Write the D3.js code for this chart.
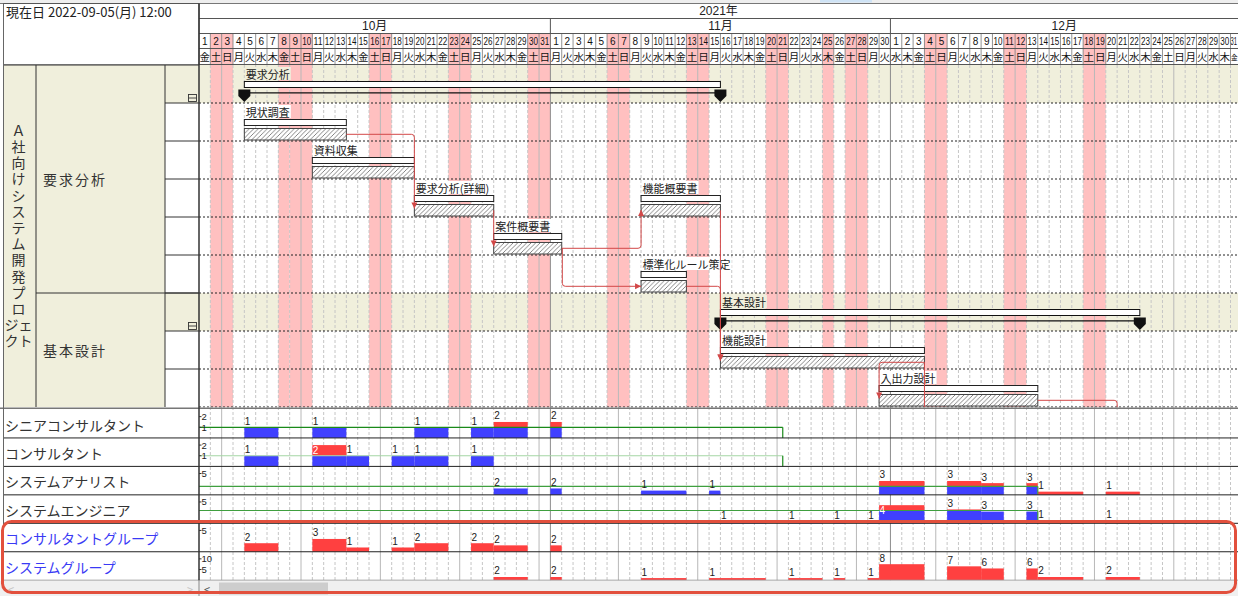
<!DOCTYPE html>
<html><head><meta charset="utf-8">
<script src="https://cdn.jsdelivr.net/npm/d3@7"></script>
<style>
html,body{margin:0;padding:0;background:#fff;overflow:hidden}
svg{display:block}
text{font-family:"Noto Sans CJK JP","Noto Sans",sans-serif}
.num{font-family:"Liberation Sans Narrow","Liberation Sans",Arial,sans-serif}
.dig{font-family:"Liberation Sans",Arial,sans-serif}
.stack{font-family:"Liberation Sans","Noto Sans CJK JP",sans-serif}
</style></head><body>
<svg id="c" width="1238" height="596"></svg>
<script>
// ================= DATA =================
const currentDateLabel = "現在日 2022-09-05(月) 12:00";
const yearLabel = "2021年";
const monthLabels = ["10月","11月","12月"];
const monthStarts = ["2021-10-01","2021-11-01","2021-12-01"];
const calendarStart = "2021-10-01";
const calendarEnd = "2022-01-01";
const weekdayNames = ["日","月","火","水","木","金","土"];
const holidays = ["2021-10-02","2021-10-03","2021-10-08","2021-10-09","2021-10-10","2021-10-16","2021-10-17",
  "2021-10-23","2021-10-24","2021-10-30","2021-10-31","2021-11-06","2021-11-07","2021-11-13","2021-11-14",
  "2021-11-20","2021-11-21","2021-11-25","2021-11-27","2021-11-28","2021-12-04","2021-12-05","2021-12-11",
  "2021-12-12","2021-12-18","2021-12-19"];

const projectNameLines = ["Ａ","社","向","け","シ","ス","テ","ム","開","発","プ","ロ","ジェ","クト"];
const phaseNames = ["要求分析","基本設計"];
const phaseFirstRow = [0,6];
const phaseLastRow = [5,8];

const taskNames    = ["要求分析","現状調査","資料収集","要求分析(詳細)","案件概要書","機能概要書","標準化ルール策定","基本設計","機能設計","入出力設計"];
const taskRows     = [0,1,2,3,4,3,5,6,7,8];
const taskStarts   = ["2021-10-05","2021-10-05","2021-10-11","2021-10-20","2021-10-27","2021-11-09","2021-11-09","2021-11-16","2021-11-16","2021-11-30"];
const taskFinishes = ["2021-11-15","2021-10-13","2021-10-19","2021-10-26","2021-11-01","2021-11-15","2021-11-12","2021-12-22","2021-12-03","2021-12-13"];
const taskIsSummary = [true,false,false,false,false,false,false,true,false,false];

const linkFrom  = ["現状調査","要求分析(詳細)","案件概要書","案件概要書","標準化ルール策定","機能概要書","機能設計"];
const linkTo    = ["要求分析(詳細)","案件概要書","機能概要書","標準化ルール策定","機能設計","機能設計","入出力設計"];
const linkRoute = ["hv","hv","hv","vh","hv","hv","hv"];
// successors outside the visible rows
const hiddenLinkFrom = ["機能設計","入出力設計"];
const hiddenLinkToStart = ["2021-12-04","2021-12-21"];
const hiddenLinkToRow = [9,9];

const resourceNames = ["シニアコンサルタント","コンサルタント","システムアナリスト","システムエンジニア","コンサルタントグループ","システムグループ"];
const resourceIsGroup = [false,false,false,false,true,true];
const resourceAxisMax = [2.67,2.67,6.67,6.67,6.67,13.33];
const resourceTicks = [[1,2],[1,2],[5],[5],[5],[5,10]];
const capacityValue = [1,1,2,3,null,null];
const capacityEnd = ["2021-11-21T12:00","2021-11-21T12:00","2021-12-14T00:00","2021-12-14T00:00",null,null];

const seniorLoad = [["2021-10-05","2021-10-07",1],["2021-10-11","2021-10-13",1],["2021-10-20","2021-10-22",1],
  ["2021-10-25","2021-10-26",1],["2021-10-27","2021-10-29",1.5],["2021-11-01","2021-11-01",1.5]];
const consultantLoad = [["2021-10-05","2021-10-07",1],["2021-10-11","2021-10-13",2],["2021-10-14","2021-10-15",1],
  ["2021-10-18","2021-10-19",1],["2021-10-20","2021-10-22",1],["2021-10-25","2021-10-26",1]];
const analystLoad = [["2021-10-27","2021-10-29",1.5],["2021-11-01","2021-11-01",1.5],["2021-11-09","2021-11-12",1],
  ["2021-11-15","2021-11-15",1],["2021-11-30","2021-12-03",3.25],["2021-12-06","2021-12-08",3.25],
  ["2021-12-09","2021-12-10",2.75],["2021-12-13","2021-12-13",2.75],["2021-12-14","2021-12-17",0.75],["2021-12-20","2021-12-22",0.75]];
const engineerLoad = [["2021-11-16","2021-11-19",0.5],["2021-11-22","2021-11-24",0.5],["2021-11-26","2021-11-26",0.5],
  ["2021-11-29","2021-11-29",0.5],["2021-11-30","2021-12-03",4.25],["2021-12-06","2021-12-08",3.25],
  ["2021-12-09","2021-12-10",2.75],["2021-12-13","2021-12-13",2.75],["2021-12-14","2021-12-17",0.75],["2021-12-20","2021-12-22",0.75]];
const consultantGroupLoad = [["2021-10-05","2021-10-07",2],["2021-10-11","2021-10-13",3],["2021-10-14","2021-10-15",1],
  ["2021-10-18","2021-10-19",1],["2021-10-20","2021-10-22",2],["2021-10-25","2021-10-26",2],
  ["2021-10-27","2021-10-29",1.5],["2021-11-01","2021-11-01",1.5]];
const systemGroupLoad = [["2021-10-27","2021-10-29",1.5],["2021-11-01","2021-11-01",1.5],["2021-11-09","2021-11-12",1],
  ["2021-11-15","2021-11-19",1],["2021-11-22","2021-11-24",1],["2021-11-26","2021-11-26",1],["2021-11-29","2021-11-29",1],
  ["2021-11-30","2021-12-03",7.5],["2021-12-06","2021-12-08",6.5],["2021-12-09","2021-12-10",5.5],
  ["2021-12-13","2021-12-13",5.5],["2021-12-14","2021-12-17",1.5],["2021-12-20","2021-12-22",1.5]];
const resourceLoads = [seniorLoad, consultantLoad, analystLoad, engineerLoad, consultantGroupLoad, systemGroupLoad];

// ================= LAYOUT =================
const W = 1238, H = 596;
const LEFT = 199, DAYW = 11.335;
const CH_TOP = 65, ROW_H = 38, N_ROWS = 9, CH_BOT = CH_TOP + ROW_H * N_ROWS;
const RES_TOP = 409.5, RES_H = 28.45;
const BEIGE = "#f0efdc", PINK = "#ffc0c0", BLUE = "#4040ff", RED = "#ff4040", LINK = "#d24848";

const D = s => new Date(s.length === 10 ? s + "T00:00:00Z" : s + ":00Z");
const nextDay = s => d3.utcDay.offset(D(s), 1);
const days = d3.utcDays(D(calendarStart), D(calendarEnd));
const x = d3.scaleUtc().domain([D(calendarStart), D(calendarEnd)]).range([LEFT, LEFT + days.length * DAYW]);
const holidaySet = new Set(holidays);
const key = d => d3.utcFormat("%Y-%m-%d")(d);

const svg = d3.select("#c");
svg.append("rect").attr("width", W).attr("height", H).attr("fill", "#fff");
const defs = svg.append("defs");
const pat = defs.append("pattern").attr("id", "hatch").attr("patternUnits", "userSpaceOnUse").attr("width", 4.5).attr("height", 4.5);
pat.append("rect").attr("width", 4.5).attr("height", 4.5).attr("fill", "#fff");
pat.append("path").attr("d", "M0,4.5 L4.5,0 M-1,1 L1,-1 M3.5,5.5 L5.5,3.5").attr("stroke", "#666").attr("stroke-width", 0.8);
defs.append("clipPath").attr("id", "clipTask").append("rect").attr("x", LEFT).attr("y", CH_TOP).attr("width", W - LEFT).attr("height", CH_BOT - CH_TOP + 0.5);
defs.append("clipPath").attr("id", "clipRes").append("rect").attr("x", LEFT).attr("y", CH_BOT).attr("width", W - LEFT).attr("height", 580.5 - CH_BOT);
defs.append("clipPath").attr("id", "clipHdr").append("rect").attr("x", LEFT).attr("y", 0).attr("width", W - LEFT).attr("height", CH_TOP);

// top strip
svg.append("rect").attr("x", 0).attr("y", 0).attr("width", W).attr("height", 3).attr("fill", "#eeeeee");
svg.append("rect").attr("x", 820).attr("y", 0).attr("width", 52).attr("height", 2.5).attr("fill", "#cfe3f5");
svg.append("line").attr("x1", 0).attr("x2", W).attr("y1", 3.5).attr("y2", 3.5).attr("stroke", "#777");

// ================= HEADER =================
const hdr = svg.append("g").attr("clip-path", "url(#clipHdr)");
hdr.append("text").attr("class", "stack").attr("x", (LEFT + W) / 2).attr("y", 11).attr("text-anchor", "middle").attr("dominant-baseline", "central")
  .attr("font-size", 12).attr("fill", "#222").text(yearLabel);
monthStarts.forEach((m, i) => {
  const s = D(m), e = i < monthStarts.length - 1 ? D(monthStarts[i + 1]) : D(calendarEnd);
  const a = Math.max(x(s), LEFT), b = Math.min(x(e), W);
  hdr.append("text").attr("class", "stack").attr("x", (a + b) / 2).attr("y", 25.5).attr("text-anchor", "middle").attr("dominant-baseline", "central")
    .attr("font-size", 12).attr("fill", "#222").text(monthLabels[i]);
  if (i > 0) hdr.append("line").attr("x1", x(s)).attr("x2", x(s)).attr("y1", 18.5).attr("y2", 64.5).attr("stroke", "#555");
});
days.forEach(d => {
  const x0 = x(d), x1 = x(d3.utcDay.offset(d, 1));
  const partial = x1 > W;
  const cx = (x0 + Math.min(x1, W)) / 2;
  if (holidaySet.has(key(d))) hdr.append("rect").attr("x", x0).attr("y", 33.5).attr("width", x1 - x0).attr("height", 31).attr("fill", PINK);
  const n = String(d.getUTCDate());
  const t = hdr.append("text").attr("class", "num").attr("y", 41.2).attr("dominant-baseline", "central")
    .attr("font-size", 10).attr("fill", "#111").text(n);
  if (partial) t.attr("x", W - 1).attr("text-anchor", "end").attr("textLength", 6.5).attr("lengthAdjust", "spacingAndGlyphs");
  else {
    t.attr("x", cx).attr("text-anchor", "middle");
    if (n.length > 1) t.attr("textLength", 9).attr("lengthAdjust", "spacingAndGlyphs");
  }
  hdr.append("text").attr("x", cx).attr("y", 56.5).attr("text-anchor", "middle").attr("dominant-baseline", "central")
    .attr("font-size", partial ? 7 : 10.5).attr("fill", "#111").text(weekdayNames[d.getUTCDay()]);
  if (x0 > LEFT + 1) hdr.append("line").attr("x1", x0).attr("x2", x0).attr("y1", 33.5).attr("y2", 64.5).attr("stroke", "#777").attr("stroke-width", 0.8);
});
[18.5, 33.5, 48.5, 64.5].forEach(yy => hdr.append("line").attr("x1", LEFT).attr("x2", W).attr("y1", yy).attr("y2", yy).attr("stroke", "#555"));

// left header
svg.append("rect").attr("x", 3.5).attr("y", 3.5).attr("width", LEFT - 3.5).attr("height", CH_TOP - 3.5).attr("fill", "#fff").attr("stroke", "#555");
svg.append("text").attr("x", 6).attr("y", 11.5).attr("dominant-baseline", "central").attr("font-size", 13).attr("fill", "#222").text(currentDateLabel);

// ================= TASK AREA =================
const ta = svg.append("g").attr("clip-path", "url(#clipTask)");
const summaryRows = taskRows.filter((r, i) => taskIsSummary[i]);
summaryRows.forEach(r => ta.append("rect").attr("x", LEFT).attr("y", CH_TOP + r * ROW_H).attr("width", W - LEFT).attr("height", ROW_H).attr("fill", BEIGE));
holidays.forEach(h => ta.append("rect").attr("x", x(D(h))).attr("y", CH_TOP).attr("width", x(nextDay(h)) - x(D(h))).attr("height", CH_BOT - CH_TOP).attr("fill", PINK));

function vgrid(g, y0, y1) {
  days.forEach(d => {
    const xx = x(d);
    if (xx <= LEFT + 1) return;
    const monthStart = d.getUTCDate() === 1, sunday = d.getUTCDay() === 0;
    const l = g.append("line").attr("x1", xx).attr("x2", xx).attr("y1", y0).attr("y2", y1);
    if (monthStart) l.attr("stroke", "#8c8c8c");
    else if (sunday) l.attr("stroke", "#b8b8b8");
    else l.attr("stroke", "#c6c6c6").attr("stroke-dasharray", "3,2");
  });
}
vgrid(ta, CH_TOP, CH_BOT);
for (let r = 1; r <= N_ROWS; r++) {
  const yy = CH_TOP + r * ROW_H;
  ta.append("line").attr("x1", LEFT).attr("x2", W).attr("y1", yy).attr("y2", yy).attr("stroke", "#222").attr("stroke-dasharray", "2,2");
}

const geom = name => {
  const i = taskNames.indexOf(name);
  const top = CH_TOP + taskRows[i] * ROW_H;
  return { x0: x(D(taskStarts[i])), x1: x(nextDay(taskFinishes[i])), top, mid: top + 31.3, hTop: top + 25.5, hBot: top + 37 };
};

const marker = (cx, top) => `M${cx - 6},${top} H${cx + 6} V${top + 6.5} L${cx},${top + 12.5} L${cx - 6},${top + 6.5} Z`;

taskNames.forEach((name, i) => {
  const g = geom(name);
  if (taskIsSummary[i]) {
    ta.append("rect").attr("x", g.x0).attr("y", g.top + 16.5).attr("width", g.x1 - g.x0).attr("height", 6).attr("fill", "#fff").attr("stroke", "#111");
    ta.append("line").attr("x1", g.x0).attr("x2", g.x1).attr("y1", g.top + 27.8).attr("y2", g.top + 27.8).attr("stroke", "#111").attr("stroke-width", 1.2);
    ta.append("path").attr("d", marker(g.x0, g.top + 24.5)).attr("fill", "#111");
    ta.append("path").attr("d", marker(g.x1, g.top + 24.5)).attr("fill", "#111");
  } else {
    ta.append("rect").attr("x", g.x0).attr("y", g.top + 16.5).attr("width", g.x1 - g.x0).attr("height", 6).attr("fill", "#fff").attr("stroke", "#222");
    ta.append("rect").attr("x", g.x0).attr("y", g.hTop).attr("width", g.x1 - g.x0).attr("height", g.hBot - g.hTop).attr("fill", "url(#hatch)").attr("stroke", "#444");
  }
  const bg = ta.append("rect").attr("fill", taskIsSummary[i] ? BEIGE : "#fff");
  const t = ta.append("text").attr("x", g.x0 + 1.5).attr("y", g.top + 8.5).attr("dominant-baseline", "central").attr("font-size", 11).attr("fill", "#222").text(name);
  const w = t.node().getComputedTextLength();
  bg.attr("x", g.x0 + 0.5).attr("y", g.top + 2).attr("width", w + 2).attr("height", 13);
});

// links
function arrowHead(ex, ey, dir) {
  const L = 6, hw = 3;
  let p;
  if (dir === "down") p = `M${ex},${ey} L${ex - hw},${ey - L} L${ex + hw},${ey - L} Z`;
  else if (dir === "up") p = `M${ex},${ey} L${ex - hw},${ey + L} L${ex + hw},${ey + L} Z`;
  else p = `M${ex},${ey} L${ex - L},${ey - hw} L${ex - L},${ey + hw} Z`;
  ta.append("path").attr("d", p).attr("fill", LINK);
}
function hvPath(sx, sy, tx, ty) {
  const r = 3;
  if (Math.abs(tx - sx) < 2) return `M${tx},${sy} V${ty}`;
  const sh = Math.sign(tx - sx), sv = Math.sign(ty - sy);
  return `M${sx},${sy} H${tx - r * sh} Q${tx},${sy} ${tx},${sy + r * sv} V${ty}`;
}
linkFrom.forEach((f, i) => {
  const s = geom(f), t = geom(linkTo[i]);
  if (linkRoute[i] === "hv") {
    const down = t.top > s.top;
    const ty = down ? t.hTop + 4 : t.hBot - 6;
    ta.append("path").attr("d", hvPath(s.x1, s.mid, t.x0, ty)).attr("fill", "none").attr("stroke", LINK);
    arrowHead(t.x0, ty, down ? "down" : "up");
  } else {
    const vx = s.x1 + 0.6, r = 3;
    ta.append("path").attr("d", `M${vx},${s.mid} V${t.mid - r} Q${vx},${t.mid} ${vx + r},${t.mid} H${t.x0}`).attr("fill", "none").attr("stroke", LINK);
    arrowHead(t.x0, t.mid, "right");
  }
});
hiddenLinkFrom.forEach((f, i) => {
  const s = geom(f);
  const tx = x(D(hiddenLinkToStart[i])), ty = CH_TOP + hiddenLinkToRow[i] * ROW_H + 29.5;
  ta.append("path").attr("d", hvPath(s.x1, s.mid, tx, ty)).attr("fill", "none").attr("stroke", LINK);
});

// ================= LEFT PANEL (tasks) =================
const lp = svg.append("g");
lp.append("rect").attr("x", 3.5).attr("y", CH_TOP).attr("width", 162 - 0.5).attr("height", CH_BOT - CH_TOP).attr("fill", BEIGE);
for (let r = 0; r < N_ROWS; r++) {
  const isSum = summaryRows.includes(r);
  const yy = CH_TOP + r * ROW_H;
  lp.append("rect").attr("x", 165).attr("y", yy).attr("width", LEFT - 165).attr("height", ROW_H).attr("fill", isSum ? BEIGE : "#fff");
  if (isSum) {
    lp.append("rect").attr("x", 188.5).attr("y", yy + 29.5).attr("width", 8).attr("height", 7).attr("fill", "none").attr("stroke", "#333").attr("stroke-width", 0.9);
    lp.append("line").attr("x1", 188.5).attr("x2", 196.5).attr("y1", yy + 33).attr("y2", yy + 33).attr("stroke", "#333").attr("stroke-width", 0.9);
  }
  if (r > 0) lp.append("line").attr("x1", 165).attr("x2", LEFT).attr("y1", yy).attr("y2", yy).attr("stroke", "#333");
}
phaseNames.forEach((p, i) => {
  const y0 = CH_TOP + phaseFirstRow[i] * ROW_H, y1 = CH_TOP + (phaseLastRow[i] + 1) * ROW_H;
  lp.append("text").attr("x", 43).attr("y", (y0 + y1) / 2).attr("dominant-baseline", "central").attr("font-size", 14)
    .attr("letter-spacing", 2).attr("fill", "#333").text(p);
  if (i > 0) lp.append("line").attr("x1", 36).attr("x2", LEFT).attr("y1", y0).attr("y2", y0).attr("stroke", "#333");
});
// project name wrapped in the narrow first column (one text, one line per tspan)
const pnStep = 16.2, pnMid = (CH_TOP + CH_BOT) / 2;
const pn = lp.append("text").attr("class", "stack").attr("text-anchor", "middle").attr("font-size", 14).attr("fill", "#333");
projectNameLines.forEach((s, i) => {
  pn.append("tspan").attr("x", 18.5).attr("y", pnMid + (i - (projectNameLines.length - 1) / 2) * pnStep + 5).text(s);
});
[36, 165].forEach(xx => lp.append("line").attr("x1", xx).attr("x2", xx).attr("y1", CH_TOP).attr("y2", CH_BOT).attr("stroke", "#333"));
lp.append("line").attr("x1", 3.5).attr("x2", LEFT).attr("y1", CH_TOP).attr("y2", CH_TOP).attr("stroke", "#333");

// ================= RESOURCE AREA =================
const ra = svg.append("g").attr("clip-path", "url(#clipRes)");
vgrid(ra, CH_BOT, 580.5);
resourceNames.forEach((name, i) => {
  const top = RES_TOP + i * RES_H, bot = top + RES_H;
  const y = d3.scaleLinear().domain([0, resourceAxisMax[i]]).range([bot, top]);
  const cap = capacityValue[i], capEnd = capacityEnd[i] ? D(capacityEnd[i]) : null;
  const labels = [];
  resourceLoads[i].forEach(([s, e, v]) => {
    const x0 = x(D(s)), x1 = x(nextDay(e));
    const c = (cap !== null && D(s) < capEnd) ? cap : 0;
    const bv = Math.min(v, c);
    if (bv > 0) ra.append("rect").attr("x", x0).attr("y", y(bv)).attr("width", x1 - x0).attr("height", y(0) - y(bv)).attr("fill", BLUE);
    if (v > bv) ra.append("rect").attr("x", x0).attr("y", y(v)).attr("width", x1 - x0).attr("height", y(bv) - y(v)).attr("fill", RED);
    const bt = y(v);
    const above = bt - top >= 11;
    labels.push({ x: x0 + 0.5, y: above ? bt - 6 : bt + 5, c: above ? "#222" : "#fff", t: String(Math.round(v)) });
  });
  if (cap !== null) {
    const xe = x(capEnd);
    const lineCol = i === 1 ? "#a4d6a4" : (i === 0 ? "#1a8a1a" : "#3f9f3f");
    ra.append("line").attr("x1", LEFT).attr("x2", xe).attr("y1", y(cap)).attr("y2", y(cap)).attr("stroke", lineCol).attr("stroke-width", 1.2);
    ra.append("line").attr("x1", xe).attr("x2", xe).attr("y1", y(cap)).attr("y2", bot).attr("stroke", i <= 1 ? "#1a8a1a" : lineCol).attr("stroke-width", 1.2);
  }
  labels.forEach(l => ra.append("text").attr("class", "dig").attr("x", l.x).attr("y", l.y).attr("dominant-baseline", "central")
    .attr("font-size", 10).attr("fill", l.c).text(l.t));
  resourceTicks[i].forEach(t => {
    ra.append("line").attr("x1", LEFT).attr("x2", LEFT + 2.5).attr("y1", y(t)).attr("y2", y(t)).attr("stroke", "#333");
    ra.append("text").attr("class", "dig").attr("x", LEFT + 2.5).attr("y", y(t)).attr("dominant-baseline", "central")
      .attr("font-size", 9.5).attr("fill", "#222").text(t);
  });
  svg.append("text").attr("x", 5).attr("y", top + 15).attr("dominant-baseline", "central").attr("font-size", 14)
    .attr("fill", resourceIsGroup[i] ? "#3a3af5" : "#333").text(name);
  svg.append("line").attr("x1", 3.5).attr("x2", W).attr("y1", bot).attr("y2", bot).attr("stroke", i === 5 ? "#999" : "#222");
});

// separators
svg.append("line").attr("x1", 0).attr("x2", W).attr("y1", CH_BOT + 1.2).attr("y2", CH_BOT + 1.2).attr("stroke", "#777").attr("stroke-width", 1.6);
svg.append("line").attr("x1", LEFT).attr("x2", LEFT).attr("y1", 3.5).attr("y2", 580.5).attr("stroke", "#333").attr("stroke-width", 1.5);
svg.append("line").attr("x1", 3.5).attr("x2", 3.5).attr("y1", 3.5).attr("y2", 580.5).attr("stroke", "#666");

// scrollbar
svg.append("rect").attr("x", 0).attr("y", 580.8).attr("width", W).attr("height", H - 580.8).attr("fill", "#f0f0f0");
svg.append("text").attr("x", 8).attr("y", 588.5).attr("dominant-baseline", "central").attr("font-size", 11).attr("fill", "#c4c4c4").text("<");
svg.append("text").attr("x", 187).attr("y", 588.5).attr("dominant-baseline", "central").attr("font-size", 11).attr("fill", "#c4c4c4").text(">");
svg.append("line").attr("x1", LEFT).attr("x2", LEFT).attr("y1", 580.8).attr("y2", H).attr("stroke", "#888");
svg.append("text").attr("x", 204).attr("y", 588.5).attr("dominant-baseline", "central").attr("font-size", 11).attr("fill", "#555").text("<");
svg.append("rect").attr("x", 219).attr("y", 582.5).attr("width", 109).attr("height", 12).attr("fill", "#cdcdcd");

// annotation frame
svg.append("rect").attr("x", 2.5).attr("y", 521.5).attr("width", 1233).attr("height", 71).attr("rx", 9)
  .attr("fill", "none").attr("stroke", "#e2503d").attr("stroke-width", 3);
</script>
</body></html>
